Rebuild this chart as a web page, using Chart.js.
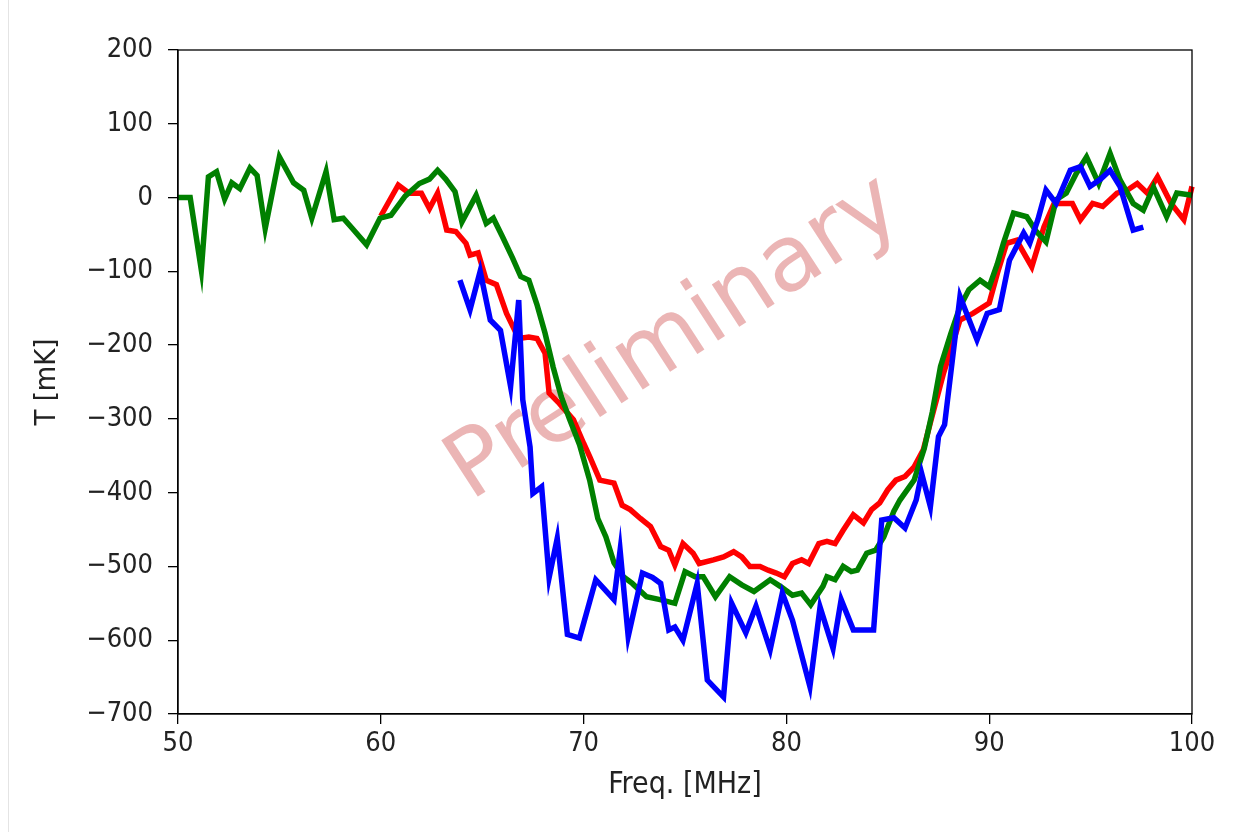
<!DOCTYPE html>
<html>
<head>
<meta charset="UTF-8">
<title>T vs Freq</title>
<script src="https://cdn.jsdelivr.net/npm/chart.js"></script>
<style>
  html, body { margin: 0; padding: 0; background: #fff; }
  #wrap { width: 1240px; height: 832px; }
</style>
</head>
<body>
<div id="wrap"><canvas id="freqChart" width="1240" height="832"></canvas></div>
<script>
// values
const greenFreq = [50.0, 50.6, 51.15, 51.5, 51.9, 52.3, 52.65, 53.05, 53.55, 53.9, 54.3, 55.0, 55.7, 56.2, 56.6, 57.3, 57.7, 58.15, 58.6, 59.3, 59.96, 60.5, 61.2, 61.9, 62.4, 62.8, 63.2, 63.66, 64.0, 64.7, 65.2, 65.55, 66.0, 66.5, 66.9, 67.3, 67.7, 68.1, 68.5, 68.9, 69.3, 69.8, 70.3, 70.7, 71.1, 71.5, 71.96, 72.4, 73.1, 73.77, 74.5, 75.0, 75.5, 75.9, 76.5, 77.2, 77.8, 78.4, 79.2, 79.7, 80.3, 80.75, 81.2, 81.8, 82.0, 82.4, 82.8, 83.2, 83.5, 83.96, 84.4, 84.8, 85.3, 85.6, 86.3, 86.8, 87.2, 87.6, 88.1, 88.56, 89.0, 89.55, 90.0, 90.4, 90.7, 91.2, 91.85, 92.3, 92.8, 93.3, 93.8, 94.3, 94.8, 95.4, 95.96, 96.45, 97.1, 97.6, 98.1, 98.75, 99.25, 100.0];
const greenT = [0, 0, -98, 28, 35, -2, 20, 12, 40, 30, -42, 55, 20, 10, -28, 35, -30, -28, -42, -64, -28, -24, 2, 19, 25, 37, 25, 8, -33, 3, -35, -28, -53, -82, -107, -112, -145, -184, -230, -270, -300, -335, -383, -435, -460, -495, -514, -523, -541, -545, -550, -507, -514, -514, -541, -514, -525, -534, -518, -527, -539, -536, -552, -527, -514, -518, -500, -507, -505, -482, -478, -460, -425, -410, -383, -340, -290, -229, -185, -148, -125, -112, -121, -90, -62, -21, -26, -45, -60, -3, 6, 33, 55, 19, 60, 24, -8, -17, 14, -26, 6, 3];

const blueFreq = [63.9, 64.4, 64.9, 65.4, 65.9, 66.4, 66.8, 67.0, 67.36, 67.5, 67.93, 68.3, 68.7, 69.2, 69.8, 70.6, 71.5, 71.8, 72.2, 72.9, 73.4, 73.8, 74.2, 74.5, 74.9, 75.6, 76.1, 76.9, 77.3, 78.0, 78.5, 79.2, 79.8, 80.3, 81.16, 81.66, 82.3, 82.7, 83.3, 84.3, 84.7, 85.3, 85.85, 86.4, 86.67, 87.1, 87.5, 87.8, 88.56, 89.4, 89.9, 90.5, 91.0, 91.7, 92.0, 92.4, 92.8, 93.3, 94.0, 94.5, 94.97, 95.5, 95.96, 96.45, 97.1, 97.6];
const blueT = [-112, -152, -100, -166, -180, -256, -139, -274, -338, -401, -392, -515, -462, -592, -597, -518, -545, -478, -595, -509, -515, -523, -586, -582, -600, -523, -654, -677, -550, -590, -554, -613, -536, -573, -663, -555, -611, -545, -586, -586, -437, -434, -448, -410, -374, -419, -324, -308, -134, -193, -157, -152, -85, -48, -62, -30, 10, -8, 37, 42, 15, 25, 37, 15, -44, -40];

const redFreq = [60.0, 60.86, 61.4, 62.0, 62.4, 62.8, 63.25, 63.7, 64.2, 64.4, 64.8, 65.2, 65.7, 66.2, 66.8, 67.3, 67.7, 68.1, 68.3, 68.8, 69.5, 70.0, 70.3, 70.8, 71.5, 71.9, 72.3, 72.8, 73.3, 73.8, 74.2, 74.5, 74.9, 75.4, 75.7, 76.4, 76.9, 77.4, 77.8, 78.2, 78.7, 79.1, 79.5, 79.9, 80.3, 80.75, 81.1, 81.6, 82.0, 82.4, 82.8, 83.3, 83.8, 84.2, 84.6, 85.0, 85.4, 85.85, 86.3, 86.75, 87.1, 87.75, 88.56, 89.2, 90.0, 90.4, 90.86, 91.35, 92.1, 92.7, 93.2, 94.1, 94.5, 95.1, 95.6, 96.3, 96.8, 97.3, 97.8, 98.3, 98.97, 99.6, 100.0];
const redT = [-25, 17, 6, 6, -15, 6, -44, -46, -62, -78, -75, -112, -118, -157, -191, -189, -191, -211, -265, -279, -301, -333, -351, -383, -387, -417, -423, -435, -446, -473, -478, -498, -469, -482, -496, -491, -487, -480, -487, -500, -500, -505, -509, -514, -496, -491, -496, -469, -466, -469, -451, -430, -441, -423, -414, -396, -383, -378, -365, -342, -305, -238, -166, -157, -143, -103, -62, -58, -94, -40, -8, -8, -30, -8, -12, 6, 10, 19, 6, 28, -8, -30, 15];

const xTicks = [50, 60, 70, 80, 90, 100];
const yTicks = [200, 100, 0, -100, -200, -300, -400, -500, -600, -700];

const FONT = '"DejaVu Sans Condensed", "DejaVu Sans", sans-serif';

function toPoints(xs, ys) {
    return xs.map((x, i) => ({ x: x, y: ys[i] }));
}

// frame, watermark, faint left edge of the screenshot
const framePlugin = {
    id: 'frame',
    beforeDatasetsDraw(chart) {
        const ctx = chart.ctx;
        ctx.save();
        ctx.strokeStyle = '#e4e4e4';
        ctx.lineWidth = 1;
        ctx.beginPath();
        ctx.moveTo(8.5, 0);
        ctx.lineTo(8.5, 832);
        ctx.stroke();

        ctx.translate(675, 340);
        ctx.rotate(-33 * Math.PI / 180);
        ctx.font = '92px "DejaVu Sans"';
        ctx.fillStyle = 'rgba(230, 160, 160, 0.78)';
        ctx.textAlign = 'center';
        ctx.textBaseline = 'middle';
        ctx.fillText('Preliminary', 0, 0);
        ctx.restore();
    },
    afterDatasetsDraw(chart) {
        const ctx = chart.ctx;
        const a = chart.chartArea;
        ctx.save();
        ctx.strokeStyle = '#000';
        ctx.lineWidth = 1.3;
        ctx.strokeRect(a.left, a.top, a.right - a.left, a.bottom - a.top);
        ctx.restore();
    }
};

const ctx = document.getElementById('freqChart').getContext('2d');
new Chart(ctx, {
    type: 'line',
    data: {
        datasets: [
            { label: 'blue', data: toPoints(blueFreq, blueT), borderColor: '#0000ff', borderWidth: 5.5, pointRadius: 0, fill: false, tension: 0 },
            { label: 'green', data: toPoints(greenFreq, greenT), borderColor: '#008000', borderWidth: 5.5, pointRadius: 0, fill: false, tension: 0 },
            { label: 'red', data: toPoints(redFreq, redT), borderColor: '#ff0000', borderWidth: 5.5, pointRadius: 0, fill: false, tension: 0 }
        ]
    },
    options: {
        responsive: false,
        animation: false,
        clip: false,
        layout: { padding: { left: 20, top: 50, right: 48, bottom: 20 } },
        plugins: { legend: { display: false }, tooltip: { enabled: false } },
        scales: {
            x: {
                type: 'linear',
                min: 50,
                max: 100,
                afterBuildTicks: (scale) => { scale.ticks = xTicks.map(v => ({ value: v })); },
                afterFit: (scale) => { scale.height = 98; },
                grid: { drawOnChartArea: false, drawTicks: true, tickLength: 10, color: '#000', lineWidth: 1.3 },
                border: { display: true, color: '#000', width: 1.3 },
                ticks: { color: '#222', font: { family: FONT, size: 27 }, padding: 4, maxRotation: 0 },
                title: { display: true, text: 'Freq. [MHz]', color: '#222', font: { family: FONT, size: 30 }, padding: { top: 0, bottom: 9 } }
            },
            y: {
                type: 'linear',
                min: -700,
                max: 200,
                afterBuildTicks: (scale) => { scale.ticks = yTicks.map(v => ({ value: v })); },
                afterFit: (scale) => { scale.width = 158; },
                grid: { drawOnChartArea: false, drawTicks: true, tickLength: 10, color: '#000', lineWidth: 1.3 },
                border: { display: true, color: '#000', width: 1.3 },
                ticks: {
                    color: '#222',
                    font: { family: FONT, size: 27 },
                    padding: 15,
                    callback: (v) => String(v).replace('-', '\u2212')
                },
                title: { display: true, text: 'T [mK]', color: '#222', font: { family: FONT, size: 29 }, padding: { top: 10, bottom: 0 } }
            }
        }
    },
    plugins: [framePlugin]
});
</script>
</body>
</html>
